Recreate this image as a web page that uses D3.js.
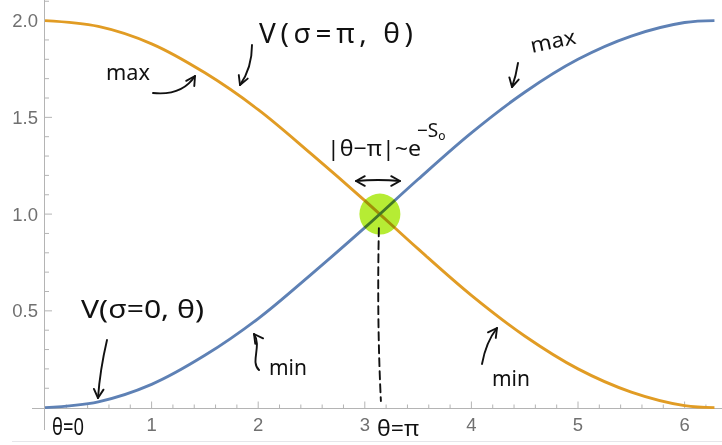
<!DOCTYPE html>
<html>
<head>
<meta charset="utf-8">
<script src="https://cdn.jsdelivr.net/npm/d3@7"></script>
<style>
  html, body { margin: 0; padding: 0; background: #fff; }
  svg { display: block; }
  .tick-label { font-family: "Liberation Sans", Arial, sans-serif; font-size: 18.5px; fill: #707070; }
  .hand { font-family: "Noto Sans", "DejaVu Sans", sans-serif; fill: #111; }
  .ink { fill: none; stroke: #111; stroke-width: 1.9; stroke-linecap: round; stroke-linejoin: round; }
</style>
</head>
<body>
<div id="chart"></div>
<script>
//  Size
var chart_width     =   722;
var chart_height    =   445;

// Values
var theta           =   [0, 0.5, 1, 1.5, 2, 2.5, 3, 3.5, 4, 4.5, 5, 5.5, 6, 6.28];
var v_sigma_0       =   [0, 0.03, 0.12, 0.27, 0.46, 0.69, 0.93, 1.18, 1.42, 1.63, 1.80, 1.92, 1.99, 2.0];
var v_sigma_pi      =   [2, 1.97, 1.88, 1.73, 1.54, 1.31, 1.07, 0.82, 0.58, 0.37, 0.20, 0.08, 0.01, 0.0];

var x_ticks         =   [1, 2, 3, 4, 5, 6];
var y_ticks         =   [0.5, 1.0, 1.5, 2.0];
var y_tick_labels   =   ["0.5", "1.0", "1.5", "2.0"];

var colors          =   { sigma0: "#5E81B5", sigmaPi: "#E19C24" };

// Scales
var x               =   d3.scaleLinear().domain([ 0, 6 ]).range([ 45, 684.6 ]);
var y               =   d3.scaleLinear().domain([ 0, 2 ]).range([ 407.6, 20.6 ]);

var svg             =   d3.select("#chart")
    .append("svg")
    .attr("width", chart_width)
    .attr("height", chart_height);

// faint frame line at the bottom
svg.append("line")
    .attr("x1", 12).attr("x2", chart_width)
    .attr("y1", 441.5).attr("y2", 441.5)
    .attr("stroke", "#e6e6ea").attr("stroke-width", 1);

// Axes
var axis_color      =   "#b4b4b4";
var x_axis_y        =   Math.round(y(0)) + 0.5;
var y_axis_x        =   Math.round(x(0)) - 0.5;

svg.append("line")
    .attr("x1", 32).attr("x2", chart_width)
    .attr("y1", x_axis_y).attr("y2", x_axis_y)
    .attr("stroke", axis_color);

svg.append("line")
    .attr("x1", y_axis_x).attr("x2", y_axis_x)
    .attr("y1", 0).attr("y2", 430)
    .attr("stroke", axis_color);

// x ticks (major + minor)
var x_minor = d3.range(0, 6.41, 0.2).filter(function(v){
    return v > 0.01 && Math.abs(v - Math.round(v)) > 0.01;
});
svg.append("g").selectAll("line")
    .data(x_minor).enter().append("line")
    .attr("x1", d => x(d)).attr("x2", d => x(d))
    .attr("y1", x_axis_y).attr("y2", x_axis_y - 4)
    .attr("stroke", axis_color);
svg.append("g").selectAll("line")
    .data(x_ticks).enter().append("line")
    .attr("x1", d => x(d)).attr("x2", d => x(d))
    .attr("y1", x_axis_y).attr("y2", x_axis_y - 7)
    .attr("stroke", axis_color);
svg.append("g").selectAll("text")
    .data(x_ticks).enter().append("text")
    .attr("class", "tick-label")
    .attr("x", d => x(d))
    .attr("y", 431)
    .attr("text-anchor", "middle")
    .text(d => d);

// y ticks
var y_minor = d3.range(0.1, 2.15, 0.1).filter(function(v){
    return Math.abs(v * 2 - Math.round(v * 2)) > 0.01;
});
svg.append("g").selectAll("line")
    .data(y_minor).enter().append("line")
    .attr("x1", y_axis_x).attr("x2", y_axis_x + 4.5)
    .attr("y1", d => y(d)).attr("y2", d => y(d))
    .attr("stroke", axis_color);
svg.append("g").selectAll("line")
    .data(y_ticks).enter().append("line")
    .attr("x1", y_axis_x).attr("x2", y_axis_x + 7.5)
    .attr("y1", d => y(d)).attr("y2", d => y(d))
    .attr("stroke", axis_color);
svg.append("g").selectAll("text")
    .data(y_ticks).enter().append("text")
    .attr("class", "tick-label")
    .attr("x", 38)
    .attr("y", d => y(d) + 6.5)
    .attr("text-anchor", "end")
    .text((d, i) => y_tick_labels[i]);

// Curves
var line = d3.line()
    .x(d => x(d[0]))
    .y(d => y(d[1]))
    .curve(d3.curveCatmullRom.alpha(0.5));

[ [v_sigma_pi, colors.sigmaPi], [v_sigma_0, colors.sigma0] ].forEach(function(s){
    svg.append("path")
        .datum(theta.map((t, i) => [t, s[0][i]]))
        .attr("fill", "none")
        .attr("stroke", s[1])
        .attr("stroke-width", 2.9)
        .attr("d", line);
});

// Highlighter blob at the crossing
svg.append("circle")
    .attr("cx", x(Math.PI))
    .attr("cy", y(1))
    .attr("r", 20.5)
    .attr("fill", "#b6ec34")
    .style("mix-blend-mode", "multiply");

// ---- handwritten notes ----
var ink = svg.append("g");

function arrowHead(tx, ty, angle){
    // angle: direction the arrow points, radians
    var len = 10, spread = 0.5;
    var a1 = angle + Math.PI - spread, a2 = angle + Math.PI + spread;
    ink.append("path").attr("class", "ink")
        .attr("d", "M" + (tx + len * Math.cos(a1)) + "," + (ty + len * Math.sin(a1)) +
                   "L" + tx + "," + ty +
                   "L" + (tx + len * Math.cos(a2)) + "," + (ty + len * Math.sin(a2)));
}
function stroke(d){
    ink.append("path").attr("class", "ink").attr("d", d);
}

// top label + arrow
ink.append("text").attr("class", "hand")
    .attr("x", 259).attr("y", 43)
    .attr("font-size", 28)
    .attr("textLength", 154).attr("lengthAdjust", "spacing")
    .text("V(σ=π, θ)");
stroke("M252,45 Q252,68 240,85");
arrowHead(240, 85, 1.95);

// left "max"
ink.append("text").attr("class", "hand")
    .attr("x", 106).attr("y", 80)
    .attr("font-size", 22)
    .attr("textLength", 44).attr("lengthAdjust", "spacingAndGlyphs")
    .text("max");
stroke("M153,93 Q182,96 195,76");
arrowHead(195, 76, -1.0);

// right "max"
ink.append("text").attr("class", "hand")
    .attr("x", 532).attr("y", 53)
    .attr("font-size", 21)
    .attr("transform", "rotate(-12,532,53)")
    .attr("textLength", 46).attr("lengthAdjust", "spacingAndGlyphs")
    .text("max");
stroke("M518,63 Q516,76 512,87");
arrowHead(512, 87, 1.8);

// tunnelling width
var width_label = ink.append("text").attr("class", "hand")
    .attr("x", 327).attr("y", 156)
    .attr("font-size", 22);
width_label.append("tspan")
    .attr("textLength", 94).attr("lengthAdjust", "spacingAndGlyphs")
    .text("|θ−π|~e");
width_label.append("tspan")
    .attr("dx", -4).attr("dy", -19).attr("font-size", 19)
    .text("−S");
width_label.append("tspan")
    .attr("dy", 3).attr("font-size", 12)
    .text("o");
stroke("M356,181 Q378,179 400,181");
arrowHead(356, 181, Math.PI);
arrowHead(400, 181, 0);

// dashed drop line to theta = pi
ink.append("path").attr("class", "ink")
    .attr("stroke-dasharray", "8,5")
    .attr("d", "M" + (x(Math.PI) - 1) + "," + (y(1) + 14) +
               " Q" + (x(Math.PI) - 3) + "," + 320 + " " + (x(Math.PI) + 1) + "," + 401);

ink.append("text").attr("class", "hand")
    .attr("x", 377).attr("y", 436)
    .attr("font-size", 22)
    .attr("textLength", 42).attr("lengthAdjust", "spacingAndGlyphs")
    .text("θ=π");

// bottom-left labels
ink.append("text").attr("class", "hand")
    .attr("x", 81).attr("y", 318)
    .attr("font-size", 26)
    .attr("textLength", 123).attr("lengthAdjust", "spacingAndGlyphs")
    .text("V(σ=0, θ)");
stroke("M107,340 Q100,370 98,398");
arrowHead(98, 398, 1.65);

ink.append("text").attr("class", "hand")
    .attr("x", 52).attr("y", 435)
    .attr("font-size", 24)
    .attr("textLength", 32).attr("lengthAdjust", "spacingAndGlyphs")
    .text("θ=0");

// "min" notes
ink.append("text").attr("class", "hand")
    .attr("x", 269).attr("y", 375)
    .attr("font-size", 21)
    .attr("textLength", 38).attr("lengthAdjust", "spacingAndGlyphs")
    .text("min");
stroke("M259,370 C250,362 262,346 254,334");
arrowHead(254, 334, -2.2);

ink.append("text").attr("class", "hand")
    .attr("x", 492).attr("y", 386)
    .attr("font-size", 21)
    .attr("textLength", 38).attr("lengthAdjust", "spacingAndGlyphs")
    .text("min");
stroke("M482,364 Q486,342 497,328");
arrowHead(497, 328, -0.95);
</script>
</body>
</html>
